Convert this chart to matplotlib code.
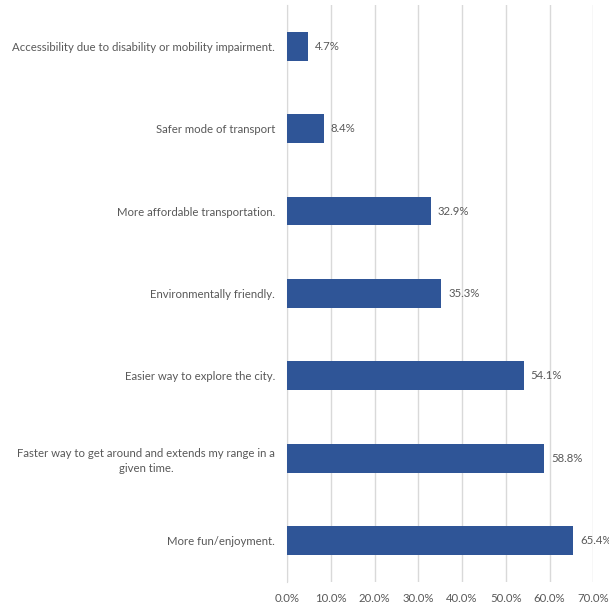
import matplotlib.pyplot as plt
from matplotlib.ticker import FuncFormatter

# survey reasons, top to bottom as shown
reasons = [
    "Accessibility due to disability or mobility impairment.",
    "Safer mode of transport",
    "More affordable transportation.",
    "Environmentally friendly.",
    "Easier way to explore the city.",
    "Faster way to get around and extends my range in a\ngiven time.",
    "More fun/enjoyment.",
]
shares = [4.7, 8.4, 32.9, 35.3, 54.1, 58.8, 65.4]
ticks = [0, 10, 20, 30, 40, 50, 60, 70]

bar_color = "#2F5597"
text_color = "#595959"
grid_color = "#D9D9D9"

plt.rcParams["font.family"] = ["Lato", "DejaVu Sans"]

fig = plt.figure(figsize=(6.09, 6.08), dpi=100)
ax = fig.add_axes([0.4713, 0.0428, 0.5029, 0.949])

y = list(range(len(reasons)))
ax.barh(y, shares, height=0.35, color=bar_color, zorder=3)
ax.set_ylim(len(reasons) - 0.5, -0.5)
ax.set_xlim(0, 70)
ax.set_xticks(ticks)
ax.xaxis.set_major_formatter(FuncFormatter(lambda v, p: f"{v:.1f}%"))
ax.set_yticks(y)
ax.set_yticklabels(reasons, ha="right", multialignment="center", linespacing=1.45)
ax.tick_params(axis="y", pad=8.5, length=0, labelsize=8.2, labelcolor=text_color)
ax.tick_params(axis="x", length=0, labelsize=8.2, labelcolor=text_color, pad=8)

ax.grid(axis="x", color=grid_color, linewidth=1, zorder=0)
for side in ["top", "right", "bottom"]:
    ax.spines[side].set_visible(False)
ax.spines["left"].set_color(grid_color)

for yi, v in zip(y, shares):
    ax.text(v + 1.6, yi, f"{v:.1f}%", va="center", ha="left",
            fontsize=8.2, color=text_color, zorder=4)

fig.savefig("out.png", dpi=100)
